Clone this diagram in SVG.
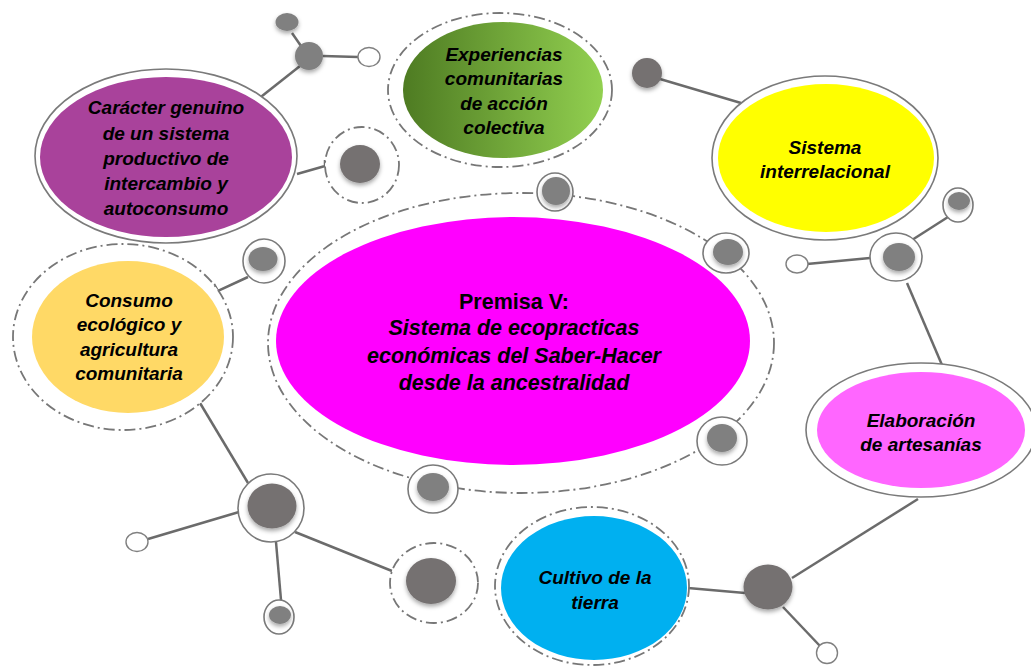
<svg xmlns="http://www.w3.org/2000/svg" width="1031" height="667" viewBox="0 0 1031 667">
<style>
.t{font-family:"Liberation Sans",Arial,sans-serif;font-weight:bold;font-style:italic;font-size:19px;fill:#000;text-anchor:middle}
.big{font-size:21.5px}
.up{font-style:normal}
.ring{fill:#fff;stroke:#7a7a7a;stroke-width:1.6}
.dring{fill:#fff;stroke:#777;stroke-width:1.8;stroke-dasharray:11 4 2 4}
.dnone{fill:none;stroke:#777;stroke-width:1.8;stroke-dasharray:11 4 2 4}
.g1{fill:#757171;filter:url(#sh)}
.g2{fill:#808080;filter:url(#sh)}
.open{fill:#fff;stroke:#808080;stroke-width:1.4}
.ln{stroke:#6b6b6b;stroke-width:2.5;fill:none}
</style>
<defs>
<filter id="sh" x="-40%" y="-40%" width="180%" height="190%">
<feDropShadow dx="0" dy="2.5" stdDeviation="2" flood-color="#000" flood-opacity="0.35"/>
</filter>
<linearGradient id="gr" x1="0" y1="0" x2="1" y2="0">
<stop offset="0" stop-color="#4E7B22"/>
<stop offset="1" stop-color="#92D050"/>
</linearGradient>
</defs>
<rect width="1031" height="667" fill="#fff"/>

<g id="connectors">
<line class="ln" x1="292" y1="33" x2="301" y2="46"/>
<line class="ln" x1="323" y1="56" x2="358" y2="57"/>
<line class="ln" x1="300" y1="66" x2="257" y2="100"/>
<polyline class="ln" points="297,174 325,166 325,160"/>
<line class="ln" x1="660" y1="79" x2="741" y2="103"/>
<line class="ln" x1="807" y1="264" x2="870" y2="258"/>
<line class="ln" x1="912" y1="240" x2="948" y2="217"/>
<line class="ln" x1="907" y1="283" x2="942" y2="365"/>
<line class="ln" x1="792" y1="578" x2="918" y2="499"/>
<line class="ln" x1="783" y1="607" x2="820" y2="646"/>
<line class="ln" x1="688" y1="588" x2="745" y2="593"/>
<polyline class="ln" points="248,277 218,291 214,284"/>
<line class="ln" x1="200" y1="403" x2="248" y2="483"/>
<line class="ln" x1="239" y1="512" x2="148" y2="539"/>
<line class="ln" x1="276" y1="542" x2="281" y2="600"/>
<line class="ln" x1="295" y1="532" x2="392" y2="571"/>
</g>

<g id="central">
<ellipse class="dnone" cx="521" cy="343" rx="253" ry="150"/>
<ellipse cx="513" cy="341" rx="237" ry="124" fill="#FF00FF"/>
<text class="t big up" x="514" y="309">Premisa V:</text>
<text class="t big" x="514" y="335">Sistema de ecopracticas</text>
<text class="t big" x="514" y="363">económicas del Saber-Hacer</text>
<text class="t big" x="514" y="390">desde la ancestralidad</text>
</g>

<g id="dot-c1"><ellipse class="ring" cx="555" cy="192" rx="18" ry="19"/><circle class="g2" cx="556" cy="191" r="14"/></g>
<g id="dot-c2"><ellipse class="ring" cx="726" cy="253" rx="23" ry="20"/><ellipse class="g2" cx="728" cy="252" rx="15" ry="13"/></g>
<g id="dot-c3"><ellipse class="ring" cx="722" cy="441" rx="25" ry="24"/><ellipse class="g2" cx="722" cy="438" rx="15" ry="14"/></g>
<g id="dot-c4"><ellipse class="ring" cx="433" cy="489" rx="25" ry="24"/><ellipse class="g2" cx="433" cy="487" rx="16" ry="14"/></g>

<g id="caracter">
<ellipse class="ring" cx="166" cy="156" rx="131" ry="87" stroke-width="2"/>
<ellipse cx="166" cy="157" rx="126" ry="80" fill="#A9429B"/>
<text class="t" x="166" y="114">Carácter genuino</text>
<text class="t" x="166" y="140">de un sistema</text>
<text class="t" x="166" y="165">productivo de</text>
<text class="t" x="166" y="190">intercambio y</text>
<text class="t" x="166" y="215">autoconsumo</text>
</g>

<g id="dots-top">
<ellipse class="g2" cx="287" cy="22" rx="11.5" ry="9"/>
<circle class="g2" cx="309" cy="56" r="14"/>
<ellipse class="open" cx="369" cy="57" rx="11" ry="9.5"/>
</g>
<g id="dot-purple"><ellipse class="dring" cx="362" cy="165" rx="37" ry="38"/><ellipse class="g1" cx="360" cy="164" rx="20" ry="19"/></g>

<g id="experiencias">
<ellipse class="dring" cx="500" cy="90" rx="112" ry="77"/>
<ellipse cx="503" cy="90" rx="100" ry="68" fill="url(#gr)"/>
<text class="t" x="504" y="61">Experiencias</text>
<text class="t" x="504" y="85">comunitarias</text>
<text class="t" x="504" y="110">de acción</text>
<text class="t" x="504" y="134">colectiva</text>
</g>

<g id="dot-yl"><circle class="g1" cx="647" cy="73" r="15"/></g>

<g id="sistema">
<ellipse class="ring" cx="825" cy="158" rx="113" ry="82" stroke-width="2"/>
<ellipse cx="826" cy="158" rx="108" ry="74" fill="#FFFF00"/>
<text class="t" x="825" y="154">Sistema</text>
<text class="t" x="825" y="178">interrelacional</text>
</g>

<g id="dots-right">
<ellipse class="ring" cx="958" cy="205" rx="15" ry="17"/><ellipse class="g2" cx="959" cy="201" rx="11" ry="9"/>
<ellipse class="ring" cx="896" cy="257" rx="26" ry="24"/><ellipse class="g2" cx="899" cy="257" rx="16" ry="14"/>
<ellipse class="open" cx="797" cy="264" rx="11" ry="9"/>
</g>

<g id="elaboracion">
<ellipse class="ring" cx="921" cy="430" rx="115" ry="67" stroke-width="2"/>
<ellipse cx="921" cy="430" rx="104" ry="58" fill="#FF66FF"/>
<text class="t" x="921" y="427">Elaboración</text>
<text class="t" x="921" y="451">de artesanías</text>
</g>

<g id="cultivo">
<ellipse class="dring" cx="592" cy="586" rx="97" ry="79"/>
<ellipse cx="594" cy="588" rx="93" ry="72" fill="#00B0F0"/>
<text class="t" x="595" y="584">Cultivo de la</text>
<text class="t" x="595" y="609">tierra</text>
</g>

<g id="dots-br">
<ellipse class="g1" cx="768" cy="587" rx="24.5" ry="22.5"/>
<circle class="open" cx="827" cy="653" r="10.5"/>
</g>

<g id="consumo">
<ellipse class="dring" cx="123" cy="337" rx="110" ry="93"/>
<ellipse cx="128" cy="337" rx="96" ry="76" fill="#FFD966"/>
<text class="t" x="129" y="307">Consumo</text>
<text class="t" x="129" y="331">ecológico y</text>
<text class="t" x="129" y="356">agricultura</text>
<text class="t" x="129" y="380">comunitaria</text>
</g>

<g id="dot-consumo"><ellipse class="ring" cx="264" cy="261" rx="21" ry="22"/><ellipse class="g2" cx="263" cy="259" rx="14.5" ry="12"/></g>

<g id="dots-bl">
<ellipse class="ring" cx="271" cy="508" rx="33" ry="34"/><ellipse class="g1" cx="272" cy="506" rx="24.5" ry="22.5"/>
<ellipse class="open" cx="137" cy="542" rx="11" ry="9.5"/>
<ellipse class="ring" cx="279" cy="617" rx="15" ry="17"/><ellipse class="g2" cx="280" cy="615" rx="11" ry="9"/>
<ellipse class="dring" cx="434" cy="583" rx="44" ry="40"/><ellipse class="g1" cx="431" cy="581" rx="25" ry="23"/>
</g>
</svg>
